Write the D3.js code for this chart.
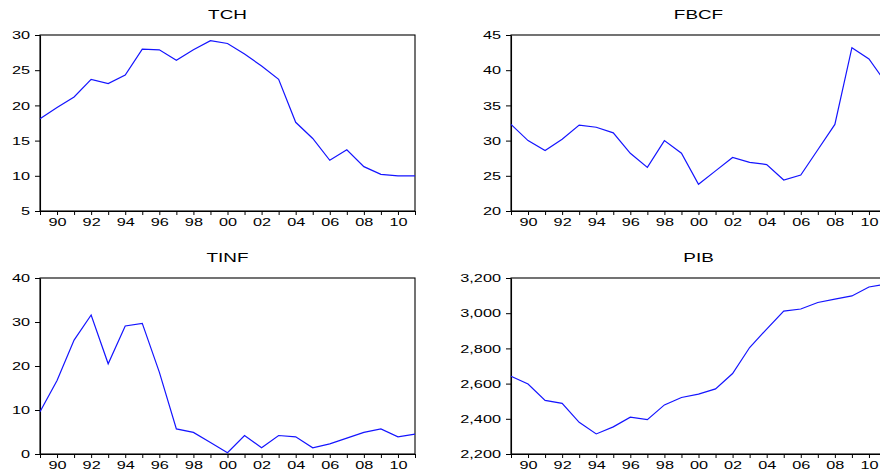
<!DOCTYPE html>
<html>
<head>
<meta charset="utf-8">
<script src="https://cdn.jsdelivr.net/npm/d3@7"></script>
<style>
  html, body { margin: 0; padding: 0; background: #fff; }
  svg { display: block; }
  text { font-family: "Liberation Sans", Arial, sans-serif; fill: #000; }
</style>
</head>
<body>
<svg id="chart" width="880" height="470"></svg>
<script>
const years = d3.range(1989, 2012);
const tch  = [18.1, 19.7, 21.2, 23.7, 23.1, 24.3, 28.0, 27.9, 26.4, 27.9, 29.2, 28.8, 27.3, 25.6, 23.7, 17.6, 15.3, 12.2, 13.7, 11.3, 10.2, 10.0, 10.0];
const fbcf = [32.3, 30.0, 28.6, 30.2, 32.2, 31.9, 31.1, 28.2, 26.2, 30.0, 28.2, 23.8, 25.7, 27.6, 26.9, 26.6, 24.4, 25.1, 28.7, 32.3, 43.2, 41.6, 38.2];
const tinf = [9.6, 16.7, 25.9, 31.6, 20.5, 29.1, 29.7, 18.6, 5.7, 4.9, 2.6, 0.3, 4.2, 1.4, 4.2, 3.9, 1.4, 2.3, 3.6, 4.9, 5.7, 3.9, 4.5];
const pib  = [2642, 2598, 2505, 2488, 2380, 2314, 2354, 2409, 2395, 2479, 2521, 2540, 2570, 2657, 2805, 2910, 3012, 3024, 3061, 3080, 3098, 3149, 3166];

const tchTicks  = [5, 10, 15, 20, 25, 30];
const fbcfTicks = [20, 25, 30, 35, 40, 45];
const tinfTicks = [0, 10, 20, 30, 40];
const pibTicks  = [2200, 2400, 2600, 2800, 3000, 3200];

const panels = [
  { title: "TCH",  values: tch,  ticks: tchTicks,  domain: [5, 30],      fmt: d3.format("d"),  x0: 40,  y0: 35,  titleY: 18.5 },
  { title: "FBCF", values: fbcf, ticks: fbcfTicks, domain: [20, 45],     fmt: d3.format("d"),  x0: 511, y0: 35,  titleY: 19 },
  { title: "TINF", values: tinf, ticks: tinfTicks, domain: [0, 40],      fmt: d3.format("d"),  x0: 40,  y0: 278, titleY: 261.5 },
  { title: "PIB",  values: pib,  ticks: pibTicks,  domain: [2200, 3200], fmt: d3.format(","),  x0: 511, y0: 278, titleY: 262 }
];

const W = 375, H = 176;
const SX = 1.55;
const svg = d3.select("#chart");

panels.forEach(p => {
  const g = svg.append("g").attr("transform", `translate(${p.x0},${p.y0})`);
  const x = d3.scaleLinear().domain([1989, 2011]).range([0, W]);
  const y = d3.scaleLinear().domain(p.domain).range([H, 0]);

  // frame
  g.append("rect").attr("x", 0).attr("y", 0).attr("width", W).attr("height", H)
    .attr("fill", "none").attr("stroke", "#000").attr("stroke-width", 1.1);

  // x axis
  const xa = g.append("g").attr("transform", `translate(0,${H})`)
    .call(d3.axisBottom(x).tickValues(years).tickSize(4).tickSizeOuter(0)
      .tickFormat(d => d % 2 === 0 ? String(d).slice(2) : ""));
  xa.select(".domain").attr("stroke", "#000").attr("stroke-width", 1.1);
  xa.selectAll(".tick line").attr("stroke", "#000");
  xa.selectAll(".tick text")
    .attr("y", 0).attr("dy", 0)
    .attr("transform", `translate(0,15) scale(${SX},1)`)
    .style("font-size", "10.5px")
    .style("font-family", "'Liberation Sans', Arial, sans-serif");

  // y axis
  const ya = g.append("g")
    .call(d3.axisLeft(y).tickValues(p.ticks).tickSize(5).tickSizeOuter(0).tickFormat(p.fmt));
  ya.select(".domain").attr("stroke", "#000").attr("stroke-width", 1.1);
  ya.selectAll(".tick line").attr("stroke", "#000");
  ya.selectAll(".tick text")
    .attr("x", 0).attr("dy", "0.36em")
    .attr("transform", `translate(-10,0) scale(${SX},1)`)
    .style("font-size", "10.5px")
    .style("font-family", "'Liberation Sans', Arial, sans-serif");

  // series line
  const line = d3.line().x((d, i) => x(years[i])).y(d => y(d));
  g.append("path").datum(p.values)
    .attr("fill", "none").attr("stroke", "#1414ff").attr("stroke-width", 1.2)
    .attr("d", line);

  // title
  svg.append("text")
    .attr("transform", `translate(${p.x0 + W / 2},${p.titleY}) scale(1.4,1)`)
    .attr("text-anchor", "middle")
    .style("font-size", "13.5px")
    .text(p.title);
});
</script>
</body>
</html>
